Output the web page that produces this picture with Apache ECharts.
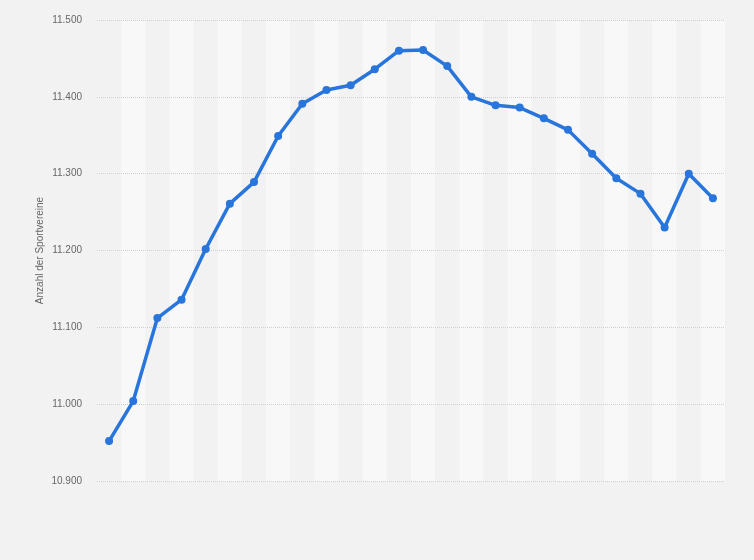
<!DOCTYPE html>
<html>
<head>
<meta charset="utf-8">
<script src="https://cdn.jsdelivr.net/npm/echarts@6/dist/echarts.min.js"></script>
<style>
html,body{margin:0;padding:0;background:#f2f2f2;}
#chart{width:754px;height:560px;}
</style>
</head>
<body>
<div id="chart"></div>
<script>
var categories = ['1996','1997','1998','1999','2000','2001','2002','2003','2004','2005','2006','2007','2008','2009','2010','2011','2012','2013','2014','2015','2016','2017','2018','2019','2020','2021'];
var values = [10952,11004,11112,11136,11202,11261,11289,11349,11391,11409,11415,11436,11460,11461,11440,11400,11389,11386,11372,11357,11326,11294,11274,11230,11300,11268];
var yTicks = {min:10900, max:11500, interval:100};
var yAxisName = 'Anzahl der Sportvereine';

function fmt(v){
  var s = String(Math.round(v));
  return s.replace(/\B(?=(\d{3})+(?!\d))/g, '.');
}

var chart = echarts.init(document.getElementById('chart'), null, {renderer:'canvas'});
chart.setOption({
  backgroundColor:'#f2f2f2',
  animation:false,
  grid:{left:97, right:29, top:20, bottom:79},
  xAxis:{
    type:'category',
    data:categories,
    boundaryGap:true,
    z:0,
    axisLine:{show:false},
    axisTick:{show:false},
    axisLabel:{show:false},
    splitLine:{show:false},
    splitArea:{show:true, interval:0, areaStyle:{color:['#f2f2f2','#f8f8f8']}}
  },
  yAxis:{
    type:'value',
    z:3,
    min:yTicks.min, max:yTicks.max, interval:yTicks.interval,
    name:yAxisName,
    nameLocation:'middle',
    nameGap:52,
    nameMoveOverlap:false,
    nameTextStyle:{color:'#666', fontSize:10, fontFamily:'Liberation Sans, Arial, sans-serif'},
    axisLine:{show:false},
    axisTick:{show:false},
    axisLabel:{color:'#666', fontSize:10, margin:15, fontFamily:'Liberation Sans, Arial, sans-serif', formatter:fmt},
    splitLine:{show:true, lineStyle:{color:'#cfcfcf', type:[1,1], width:1}}
  },
  series:[{
    type:'line',
    z:5,
    data:values,
    symbol:'circle',
    symbolSize:8,
    lineStyle:{color:'#2875dc', width:3.5},
    itemStyle:{color:'#2875dc'}
  }]
});
</script>
</body>
</html>
